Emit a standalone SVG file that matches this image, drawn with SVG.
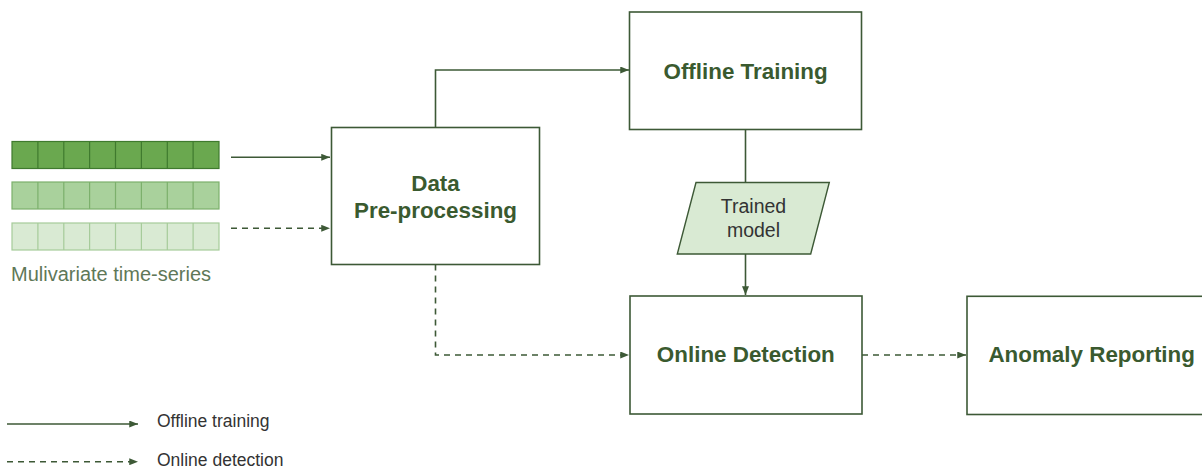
<svg xmlns="http://www.w3.org/2000/svg" width="1202" height="469" viewBox="0 0 1202 469">
  <style>
    .box { fill: #ffffff; stroke: #3d5936; stroke-width: 1.6; }
    .title { font-family: "Liberation Sans", Arial, sans-serif; font-size: 22.4px; font-weight: bold; fill: #3a5a2f; text-anchor: middle; }
    .data { fill: #d9ead3; stroke: #3d5936; stroke-width: 1.4; }
    .data-label { font-family: "Liberation Sans", Arial, sans-serif; font-size: 19.5px; fill: #333333; text-anchor: middle; }
    .edge { fill: none; stroke: #3d5936; stroke-width: 1.6; }
    .dash { stroke-dasharray: 6 5; }
    .legend { font-family: "Liberation Sans", Arial, sans-serif; font-size: 17.5px; fill: #333333; }
    .caption { font-family: "Liberation Sans", Arial, sans-serif; font-size: 20px; fill: #5f7858; }
    .s1 { fill: #6aa84f; stroke: #3f7a2e; stroke-width: 1.2; }
    .s2 { fill: #a9d19c; stroke: #7cb06c; stroke-width: 1.2; }
    .s3 { fill: #d9ead3; stroke: #a6cb9a; stroke-width: 1.2; }
  </style>
  <defs>
    <marker id="arrow" viewBox="0 0 10 8" refX="10" refY="4" markerWidth="9" markerHeight="7" markerUnits="userSpaceOnUse" orient="auto">
      <path d="M0,0 L10,4 L0,8 Z" fill="#3d5936"/>
    </marker>
    <!-- one row of eight cells for a time series -->
    <g id="cells">
      <path d="M37.9,0 V27 M63.8,0 V27 M89.6,0 V27 M115.5,0 V27 M141.4,0 V27 M167.3,0 V27 M193.1,0 V27"/>
    </g>
  </defs>

  <!-- input: multivariate time series -->
  <g id="series">
    <g class="s1">
      <rect x="12" y="141.5" width="207" height="27"/>
      <use href="#cells" y="141.5"/>
    </g>
    <g class="s2">
      <rect x="12" y="182" width="207" height="27"/>
      <use href="#cells" y="182"/>
    </g>
    <g class="s3">
      <rect x="12" y="223" width="207" height="27"/>
      <use href="#cells" y="223"/>
    </g>
    <text class="caption" x="11" y="281">Mulivariate time-series</text>
  </g>

  <!-- connectors -->
  <g id="connectors">
    <path class="edge" d="M231,157.3 H330" marker-end="url(#arrow)"/>
    <path class="edge dash" d="M231,228.3 H330" marker-end="url(#arrow)"/>
    <path class="edge" d="M435.5,127.5 V70 H629" marker-end="url(#arrow)"/>
    <path class="edge" d="M745.5,129.5 V182.5"/>
    <path class="edge" d="M745.5,254 V295" marker-end="url(#arrow)"/>
    <path class="edge dash" d="M435.5,264.5 V355 H629" marker-end="url(#arrow)"/>
    <path class="edge dash" d="M862,355 H966" marker-end="url(#arrow)"/>
  </g>

  <g id="preprocessing">
    <rect class="box" x="331.5" y="127.5" width="208" height="137"/>
    <text class="title" x="435.5" y="190.5">Data</text>
    <text class="title" x="435.5" y="218.3">Pre-processing</text>
  </g>

  <g id="offline-training">
    <rect class="box" x="629.5" y="12" width="232" height="117.5"/>
    <text class="title" x="745.6" y="79">Offline Training</text>
  </g>

  <g id="trained-model">
    <polygon class="data" points="696,182.5 829.3,182.5 810.7,254 677.3,254"/>
    <text class="data-label" x="753.5" y="213.3">Trained</text>
    <text class="data-label" x="753.5" y="237.3">model</text>
  </g>

  <g id="online-detection">
    <rect class="box" x="630" y="296" width="232" height="118"/>
    <text class="title" x="745.8" y="362.3">Online Detection</text>
  </g>

  <g id="anomaly-reporting">
    <rect class="box" x="967" y="296.3" width="250" height="118.2"/>
    <text class="title" x="1091.7" y="362.3">Anomaly Reporting</text>
  </g>

  <!-- legend -->
  <g id="legend">
    <path class="edge" d="M7,424 H138" marker-end="url(#arrow)"/>
    <text class="legend" x="157" y="427">Offline training</text>
    <path class="edge dash" d="M7,461.7 H138" marker-end="url(#arrow)"/>
    <text class="legend" x="157" y="466">Online detection</text>
  </g>
</svg>
